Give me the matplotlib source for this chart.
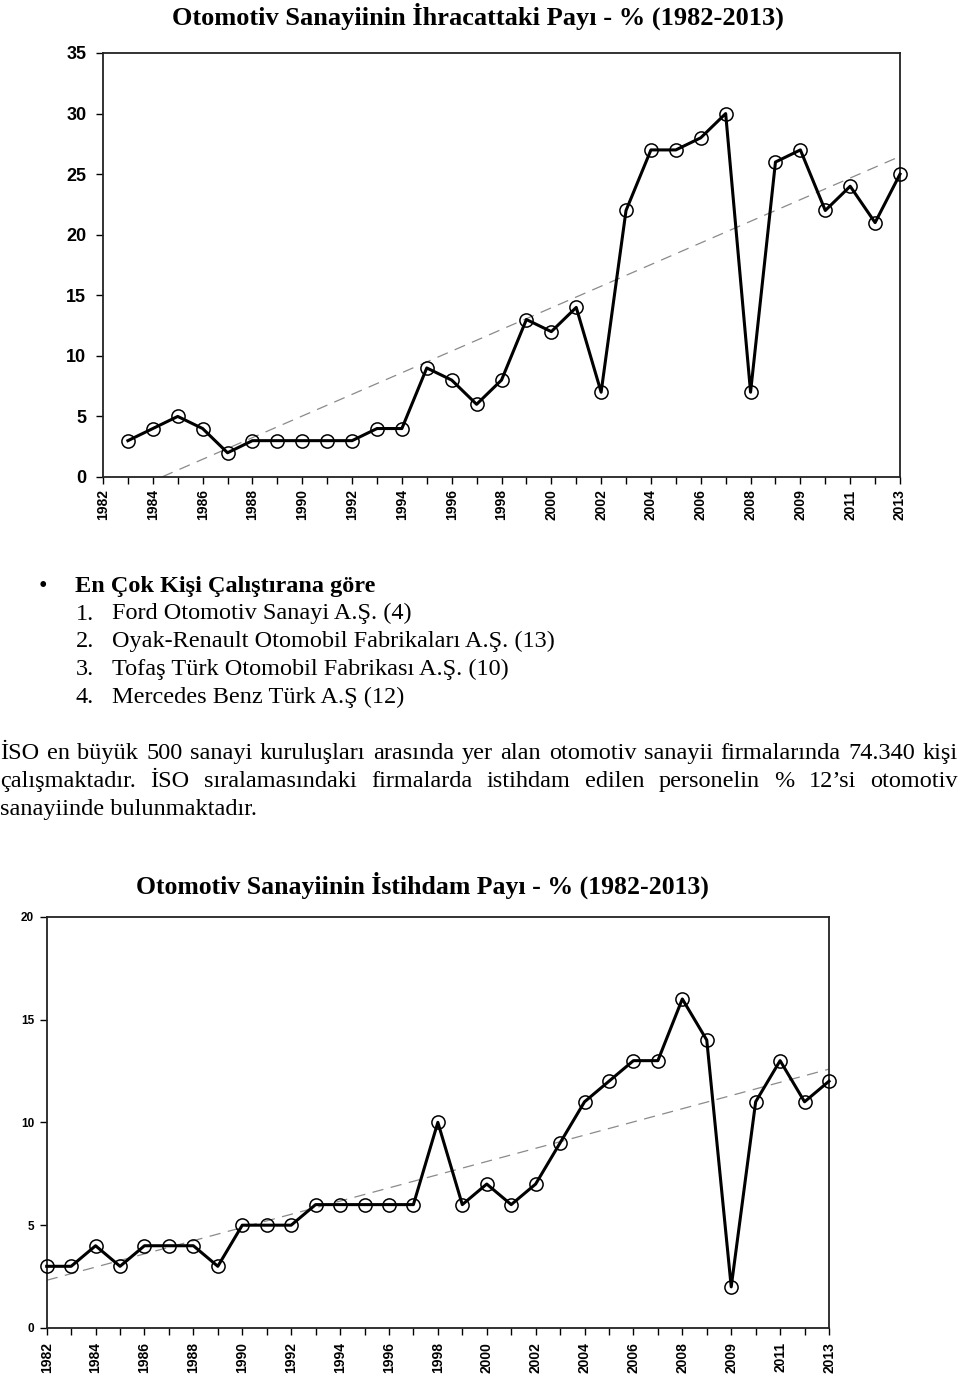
import numpy as np
import matplotlib.pyplot as plt

# ---------------------------------------------------------------
# Data
# ---------------------------------------------------------------
year_labels = ['1982', '1984', '1986', '1988', '1990', '1992', '1994', '1996',
               '1998', '2000', '2002', '2004', '2006', '2008', '2009', '2011', '2013']

# export share (%) - points sit on category positions 1..32
export_share = [3, 4, 5, 4, 2, 3, 3, 3, 3, 3, 4, 4, 9, 8, 6, 8,
                13, 12, 14, 7, 22, 27, 27, 28, 30, 7, 26, 27, 22, 24, 21, 25]

# employment share (%) - points sit on category positions 0..32
employment_share = [3, 3, 4, 3, 4, 4, 4, 3, 5, 5, 5, 6, 6, 6, 6, 6, 10,
                    6, 7, 6, 7, 9, 11, 12, 13, 13, 16, 14, 2, 11, 13, 11, 12]

title_top = 'Otomotiv Sanayiinin İhracattaki Payı - % (1982-2013)'
title_bottom = 'Otomotiv Sanayiinin İstihdam Payı - % (1982-2013)'

list_head = 'En Çok Kişi Çalıştırana göre'
list_items = ['Ford Otomotiv Sanayi A.Ş. (4)',
              'Oyak-Renault Otomobil Fabrikaları A.Ş. (13)',
              'Tofaş Türk Otomobil Fabrikası A.Ş. (10)',
              'Mercedes Benz Türk A.Ş (12)']
para_lines = ['İSO en büyük 500 sanayi kuruluşları arasında yer alan otomotiv sanayii firmalarında 74.340 kişi',
              'çalışmaktadır. İSO sıralamasındaki firmalarda istihdam edilen personelin % 12’si otomotiv',
              'sanayiinde bulunmaktadır.']

W, H = 960, 1375
fig = plt.figure(figsize=(W / 100, H / 100), dpi=100)


def px_axes(x0, y0, x1, y1):
    # axes from pixel box (top-left origin)
    return fig.add_axes([x0 / W, 1 - y1 / H, (x1 - x0) / W, (y1 - y0) / H])


def draw_chart(ax, xs, ys, ymax, ylab_size, ypad, xpad):
    xs = np.asarray(xs, dtype=float)
    ys = np.asarray(ys, dtype=float)
    # linear trend line (dashed grey)
    k, b = np.polyfit(xs, ys, 1)
    tx = np.array([xs[0], xs[-1]])
    ax.plot(tx, k * tx + b, color='#8a8a8a', lw=0.9, dashes=(9, 6))
    ax.plot(xs, ys, color='black', lw=2.2, marker='o', ms=9.5,
            mfc='none', mec='black', mew=1.1, clip_on=False, zorder=5)
    ax.set_xlim(0, 32)
    ax.set_ylim(0, ymax)
    ax.set_yticks(np.arange(0, ymax + 1, 5))
    ax.set_xticks(range(33))
    labels = []
    for i in range(33):
        labels.append(year_labels[i // 2] if i % 2 == 0 else '')
    ax.set_xticklabels(labels)
    for s in ax.spines.values():
        s.set_linewidth(1.3)
        s.set_color('#222222')
    ax.tick_params(axis='x', direction='out', length=5, width=1, pad=xpad,
                   labelrotation=90, labelsize=10)
    ax.tick_params(axis='y', direction='out', length=5, width=1, pad=ypad,
                   labelsize=ylab_size)
    for t in ax.get_xticklabels() + ax.get_yticklabels():
        t.set_fontfamily('Liberation Sans')
        t.set_fontweight('bold')


# top chart: export share
ax1 = px_axes(103, 53, 900, 477)
draw_chart(ax1, range(1, 33), export_share, 35, 13, 7, 4)

# bottom chart: employment share
ax2 = px_axes(46.7, 916.7, 829, 1328)
draw_chart(ax2, range(0, 33), employment_share, 20, 8.5, 4, 5)

# titles
fig.text(478 / W, 1 - 16 / H, title_top, ha='center', va='center',
         family='Liberation Serif', weight='bold', fontsize=19)
fig.text(422 / W, 1 - 885 / H, title_bottom, ha='center', va='center',
         family='Liberation Serif', weight='bold', fontsize=18.5)

# bullet list
body = dict(family='Liberation Serif', fontsize=17.5, va='baseline')
fig.text(43 / W, 1 - 592 / H, '•', ha='center', **body)
fig.text(75 / W, 1 - 592 / H, list_head, ha='left', weight='bold', **body)
for i, item in enumerate(list_items):
    y = 619.5 + i * 27.8
    fig.text(76 / W, 1 - y / H, f'{i + 1}.', ha='left', **body)
    fig.text(112 / W, 1 - y / H, item, ha='left', **body)

# paragraph, first two lines justified
renderer = fig.canvas.get_renderer()


def justified(text, y, x0, x1):
    words = text.split(' ')
    widths = []
    for w in words:
        t = fig.text(0, 0, w, **body)
        widths.append(t.get_window_extent(renderer).width)
        t.remove()
    gap = (x1 - x0 - sum(widths)) / (len(words) - 1)
    x = x0
    for w, wd in zip(words, widths):
        fig.text(x / W, 1 - y / H, w, ha='left', **body)
        x += wd + gap


justified(para_lines[0], 759, 0, 958)
justified(para_lines[1], 787, 0, 958)
fig.text(0, 1 - 815 / H, para_lines[2], ha='left', **body)

fig.savefig('out.png', dpi=100)
